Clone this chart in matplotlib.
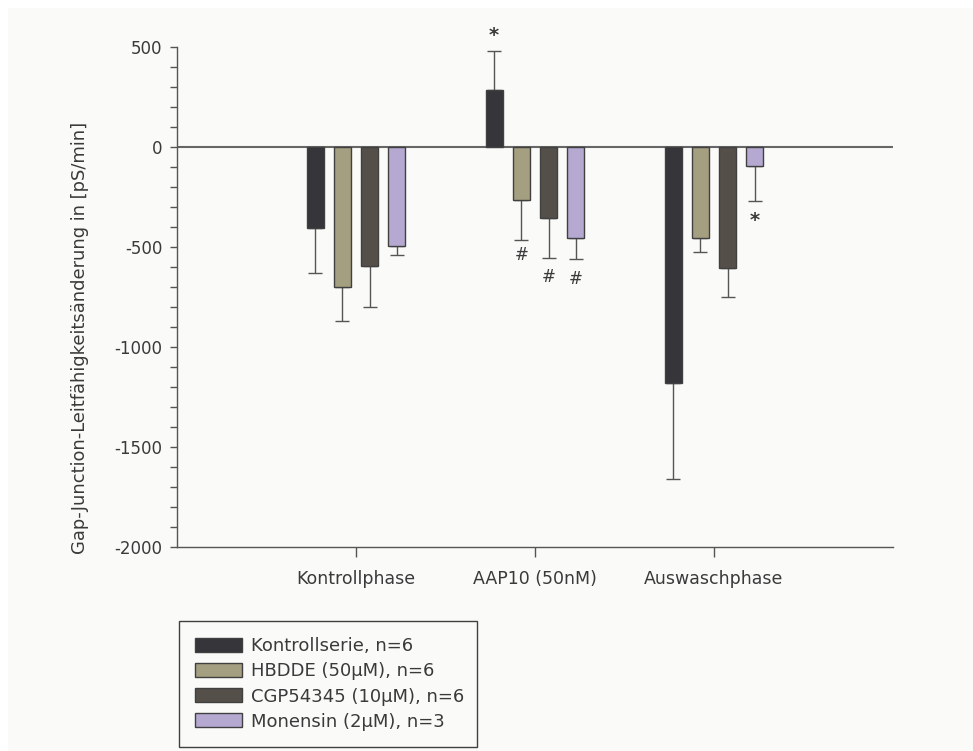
import numpy as np
import matplotlib.pyplot as plt
from matplotlib.patches import Rectangle
from matplotlib.ticker import MultipleLocator

plt.rcParams['font.family'] = ['DejaVu Sans']
plt.rcParams['axes.unicode_minus'] = False

# Messphasen und Versuchsreihen
phasen = ["Kontrollphase", "AAP10 (50nM)", "Auswaschphase"]
serien = ["Kontrollserie, n=6", "HBDDE (50µM), n=6",
          "CGP54345 (10µM), n=6", "Monensin (2µM), n=3"]

# Mittelwerte der Leitfähigkeitsänderung [pS/min], je Serie über die Phasen
kontrolle = [-405, 285, -1180]
hbdde = [-700, -265, -455]
cgp = [-595, -355, -605]
monensin = [-495, -455, -95]

# Standardfehler (einseitig)
kontrolle_err = [225, 195, 480]
hbdde_err = [170, 200, 70]
cgp_err = [205, 200, 145]
monensin_err = [45, 105, 175]

# Signifikanzmarken: (Phase, Serie, Zeichen, y-Position)
marken = [(1, 0, "*", 555), (1, 1, "#", -545), (1, 2, "#", -655),
          (1, 3, "#", -665), (2, 3, "*", -370)]

werte = [kontrolle, hbdde, cgp, monensin]
fehler = [kontrolle_err, hbdde_err, cgp_err, monensin_err]
farben = ["#35353a", "#a39f80", "#554f4a", "#b5a9d2"]
HINTERGRUND = "#fafaf8"
TEXT = "#3a3a3a"
ACHSE = "#555555"

fig = plt.figure(figsize=(9.73, 7.51), dpi=100)
fig.patch.set_facecolor("white")
fig.patches.append(Rectangle((8 / 973, 0), 1, 1 - 8 / 751, transform=fig.transFigure,
                             facecolor=HINTERGRUND, edgecolor="none", zorder=-10))

ax = fig.add_axes([177 / 973, 1 - 546.5 / 751, 716 / 973, 500 / 751])
ax.set_facecolor(HINTERGRUND)

x = np.arange(len(phasen))
breite = 0.095
abstand = 0.152
for i, (w, e, c, name) in enumerate(zip(werte, fehler, farben, serien)):
    pos = x + (i - 1.5) * abstand
    w = np.array(w)
    e = np.array(e)
    ax.bar(pos, w, width=breite, color=c, edgecolor="#404040", linewidth=1,
           zorder=3, label=name)
    unten = np.where(w < 0, e, 0)
    oben = np.where(w >= 0, e, 0)
    ax.errorbar(pos, w, yerr=[unten, oben], fmt="none", ecolor=ACHSE,
                elinewidth=1, capsize=5, capthick=1, zorder=2)

for p, s, zeichen, y in marken:
    ax.text(x[p] + (s - 1.5) * abstand, y, zeichen, ha="center", va="center",
            fontsize=14 if zeichen == "*" else 12,
            fontweight="bold" if zeichen == "*" else "normal",
            color=TEXT, zorder=4)

ax.axhline(0, color="#666666", linewidth=1.5, zorder=1)

ax.set_xlim(-1, 3)
ax.set_ylim(-2000, 500)
ax.yaxis.set_major_locator(MultipleLocator(500))
ax.yaxis.set_minor_locator(MultipleLocator(100))
ax.set_xticks(x)
ax.set_xticklabels(phasen)

for s in ["top", "right"]:
    ax.spines[s].set_visible(False)
for s in ["left", "bottom"]:
    ax.spines[s].set_color(ACHSE)
    ax.spines[s].set_linewidth(1)

ax.tick_params(axis="y", which="both", direction="out", length=5, width=1,
               color=ACHSE, labelsize=12, labelcolor=TEXT, pad=5.5)
ax.tick_params(axis="x", direction="out", length=7, width=1, color=ACHSE,
               labelsize=12.5, labelcolor=TEXT, pad=10)

fig.text(80 / 973, 1 - 338 / 751, "Gap-Junction-Leitfähigkeitsänderung in [pS/min]",
         rotation=90, ha="center", va="center", fontsize=12.9, color=TEXT)

leg = fig.legend(loc="upper left", bbox_to_anchor=(179 / 973, 1 - 621 / 751, 298 / 973, 0.0),
                 mode="expand", fontsize=13, handlelength=2.6, handleheight=0.83,
                 handletextpad=0.5, labelspacing=0.39, borderpad=0.91,
                 borderaxespad=0, fancybox=False, framealpha=1)
leg.get_frame().set_edgecolor("#404040")
leg.get_frame().set_facecolor(HINTERGRUND)
leg.get_frame().set_linewidth(1)
for t in leg.get_texts():
    t.set_color(TEXT)

fig.savefig("out.png", dpi=100, facecolor=fig.get_facecolor())
